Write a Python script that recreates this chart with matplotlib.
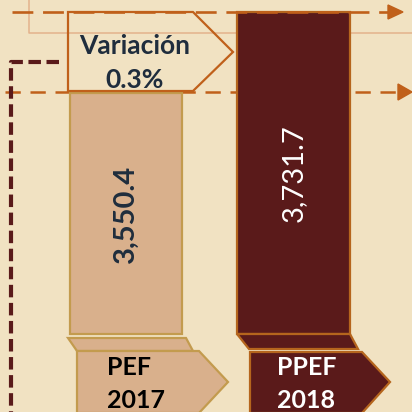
import numpy as np
from matplotlib import pyplot as plt
from matplotlib.patches import Polygon

# data
categories = ["PEF\n2017", "PPEF\n2018"]
values = np.array([3550.4, 3731.7])
variation_label = "Variación\n0.3%"
axis_base = 3011.0          # bars start at a broken axis, not at zero

# colours
bg = "#F1E2C2"
orange = "#C0601A"
darkred = "#5A1A1A"
tan = "#D9B08C"
gold = "#C39B4E"
bar_colors = [tan, darkred]
bar_edges = [gold, "#B5651D"]
label_colors = ["#1F2D3D", "white"]
label_weights = ["bold", "normal"]
cat_colors = ["black", "white"]

plt.rcParams["lines.scale_dashes"] = False
plt.rcParams["font.family"] = ["Lato", "DejaVu Sans"]


def pix_axes(fig, z):
    ax = fig.add_axes([0, 0, 1, 1], zorder=z)
    ax.set_xlim(0, 412)
    ax.set_ylim(412, 0)
    ax.axis("off")
    ax.patch.set_alpha(0)
    return ax


def main():
    fig = plt.figure(figsize=(4.12, 4.12), dpi=100)
    fig.patch.set_facecolor(bg)

    # decoration behind the bars
    back = pix_axes(fig, 0)
    back.plot([29, 29, 412], [0, 33, 33], color="#E3B28C", lw=1.1)
    back.plot([5, 398], [91.5, 91.5], color=orange, lw=1.8, dashes=(11, 7))
    back.add_patch(Polygon([[398, 84], [412, 92], [398, 100]], color=orange))
    back.plot([59, 11, 11], [62, 62, 412], color=darkred, lw=3, dashes=(9, 4))

    # bars on a value axis
    ax = fig.add_axes([0, 0, 1, 1], zorder=1)
    ax.patch.set_alpha(0)
    ax.axis("off")
    x = np.arange(len(values))
    ax.bar(x, values - axis_base, bottom=axis_base, width=0.669,
           color=bar_colors, edgecolor=bar_edges, linewidth=1.6)
    ax.set_xlim(-0.752, 1.7075)
    ax.set_ylim(2836.4, 3758.6)
    for i, v in enumerate(values):
        ax.text(i, (v + axis_base) / 2, f"{v:,.1f}", rotation=90,
                ha="center", va="center", fontsize=21,
                color=label_colors[i], fontweight=label_weights[i])

    # decoration in front
    front = pix_axes(fig, 2)
    front.plot([12, 388], [12, 12], color=orange, lw=1.9, dashes=(15, 7))
    front.add_patch(Polygon([[388, 5], [403, 12], [388, 19]], color=orange))
    front.add_patch(Polygon([[68, 12], [193, 12], [233, 52], [193, 91], [68, 91]],
                            fill=False, edgecolor=orange, lw=1.6))
    front.text(135, 63, variation_label, ha="center", va="center",
               fontsize=19, fontweight="bold", color="#1F2D3D", linespacing=1.5)

    # floor pieces and category arrows
    floors = [[[68, 338], [186, 338], [193, 351], [77, 351]],
              [[237, 334], [350, 334], [358, 349], [249, 349]]]
    tags = [[[77, 351], [199, 351], [228, 382], [199, 413], [77, 413]],
            [[250, 352], [362, 352], [390, 382], [362, 413], [250, 413]]]
    text_x = [107, 277]
    for i in range(len(categories)):
        front.add_patch(Polygon(floors[i], facecolor=bar_colors[i],
                                edgecolor=bar_edges[i], lw=1.6))
        front.add_patch(Polygon(tags[i], facecolor=bar_colors[i],
                                edgecolor=bar_edges[i], lw=1.6))
        front.text(text_x[i], 384, categories[i], ha="left", va="center",
                   fontsize=18, fontweight="bold", color=cat_colors[i],
                   linespacing=1.5)

    fig.savefig("out.png", dpi=100, facecolor=bg)


if __name__ == "__main__":
    main()
